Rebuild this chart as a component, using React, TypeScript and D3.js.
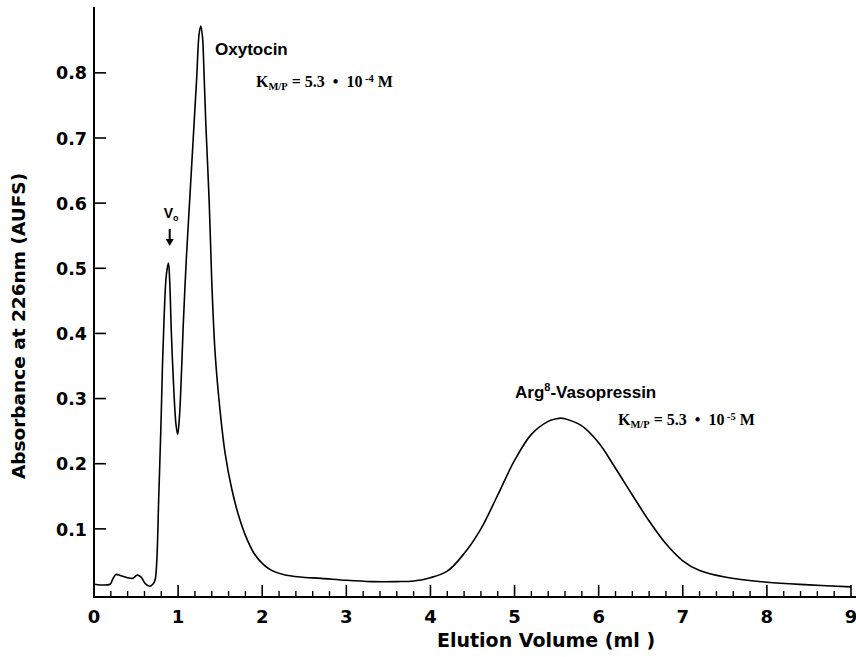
import React from 'react';
import * as d3 from 'd3';

const volume = [
  0.0, 0.19, 0.22, 0.26, 0.32, 0.4, 0.46, 0.515, 0.56, 0.61, 0.66, 0.7, 0.725,
  0.745, 0.77, 0.795, 0.815, 0.835, 0.86, 0.885, 0.9, 0.92, 0.95, 0.975, 0.995,
  1.015, 1.04, 1.06, 1.1, 1.14, 1.18, 1.22, 1.25, 1.27, 1.29, 1.3, 1.33, 1.37,
  1.4, 1.44, 1.5, 1.56, 1.64, 1.72, 1.8, 1.9, 2.0, 2.1, 2.25, 2.45, 2.7, 3.0,
  3.3, 3.6, 3.8, 4.0, 4.2, 4.4, 4.6, 4.8, 5.0, 5.2, 5.4, 5.5, 5.55, 5.6, 5.8,
  6.0, 6.2, 6.4, 6.6, 6.8, 7.0, 7.2, 7.5, 8.0, 8.5, 9.0,
];
const absorbance = [
  0.015, 0.015, 0.022, 0.030, 0.028, 0.025, 0.024, 0.029, 0.026, 0.016, 0.012,
  0.015, 0.021, 0.047, 0.15, 0.255, 0.355, 0.43, 0.49, 0.508, 0.48, 0.4, 0.31,
  0.26, 0.245, 0.27, 0.34, 0.41, 0.52, 0.61, 0.7, 0.79, 0.86, 0.872, 0.855,
  0.83, 0.72, 0.6, 0.48, 0.37, 0.28, 0.215, 0.16, 0.12, 0.09, 0.063, 0.047,
  0.037, 0.03, 0.026, 0.024, 0.021, 0.019, 0.019, 0.02, 0.025, 0.035, 0.062,
  0.1, 0.152, 0.205, 0.245, 0.265, 0.269, 0.27, 0.269, 0.258, 0.232, 0.193,
  0.152, 0.112, 0.077, 0.051, 0.036, 0.026, 0.018, 0.014, 0.011,
];
const xTickValues = [0, 1, 2, 3, 4, 5, 6, 7, 8, 9];
const xTickLabels = ['0', '1', '2', '3', '4', '5', '6', '7', '8', '9'];
const yTickValues = [0.1, 0.2, 0.3, 0.4, 0.5, 0.6, 0.7, 0.8];
const yTickLabels = ['0.1', '0.2', '0.3', '0.4', '0.5', '0.6', '0.7', '0.8'];
const minorStep = 0.2;

const SANS = 'DejaVu Sans, sans-serif';
const LABEL = 'Liberation Sans, Arial, sans-serif';
const SERIF = 'Liberation Serif, Times New Roman, serif';

export default function App() {
  const W = 856;
  const H = 657;
  const x = d3.scaleLinear().domain([0, 9]).range([94, 851]);
  const y = d3.scaleLinear().domain([0, 0.9]).range([594, 7.7]);
  const axisY = 597;
  const axisX = 94;

  const pts: [number, number][] = volume.map((v, i) => [v, absorbance[i]]);
  const line = d3
    .line<[number, number]>()
    .x((d) => x(d[0]))
    .y((d) => y(d[1]))
    .curve(d3.curveCatmullRom.alpha(0.5));

  const minor = d3.range(0, 9 + 1e-9, minorStep).filter(
    (v) => Math.abs(v - Math.round(v)) > 1e-6
  );

  const vx = x(0.9);

  return (
    <svg
      width={W}
      height={H}
      style={{ position: 'absolute', left: 0, top: 0, background: '#fff' }}
    >
      {/* curve */}
      <path d={line(pts) || ''} fill="none" stroke="#000" strokeWidth={1.6} />

      {/* axes */}
      <line x1={axisX} x2={axisX} y1={7} y2={axisY + 1} stroke="#000" strokeWidth={2} />
      <line x1={axisX - 1} x2={W} y1={axisY} y2={axisY} stroke="#000" strokeWidth={2} />

      {/* x ticks */}
      {xTickValues.map((v, i) => (
        <g key={'xt' + i}>
          <line x1={x(v)} x2={x(v)} y1={axisY} y2={axisY - 12} stroke="#000" strokeWidth={1.6} />
          <text
            x={x(v)}
            y={623}
            textAnchor="middle"
            fontFamily={SANS}
            fontWeight="bold"
            fontSize={18}
          >
            {xTickLabels[i]}
          </text>
        </g>
      ))}
      {minor.map((v, i) => (
        <line
          key={'xm' + i}
          x1={x(v)}
          x2={x(v)}
          y1={axisY}
          y2={axisY - 6}
          stroke="#000"
          strokeWidth={1.4}
        />
      ))}

      {/* y ticks */}
      {yTickValues.map((v, i) => (
        <g key={'yt' + i}>
          <line x1={axisX} x2={axisX + 12} y1={y(v)} y2={y(v)} stroke="#000" strokeWidth={1.6} />
          <text
            x={87}
            y={y(v)}
            dy="0.38em"
            textAnchor="end"
            fontFamily={SANS}
            fontWeight="bold"
            fontSize={17.5}
          >
            {yTickLabels[i]}
          </text>
        </g>
      ))}

      {/* axis titles */}
      <text x={437} y={647} fontFamily={SANS} fontWeight="bold" fontSize={19}>
        Elution Volume (ml )
      </text>
      <text
        transform="translate(25,326) rotate(-90)"
        textAnchor="middle"
        fontFamily={SANS}
        fontWeight="bold"
        fontSize={18.5}
      >
        Absorbance at 226nm (AUFS)
      </text>

      {/* annotations */}
      <text x={215} y={55} fontFamily={LABEL} fontWeight="bold" fontSize={17}>
        Oxytocin
      </text>
      <text x={256} y={87} fontFamily={SERIF} fontWeight="bold" fontSize={16} xmlSpace="preserve">
        K
        <tspan dy={3} fontSize={10.5}>M/P</tspan>
        <tspan dy={-3}>{' = 5.3  •  10'}</tspan>
        <tspan dy={-5} fontSize={10.5}>{' -4'}</tspan>
        <tspan dy={5}>{' M'}</tspan>
      </text>

      <text x={515} y={398} fontFamily={LABEL} fontWeight="bold" fontSize={17}>
        Arg
        <tspan dy={-7} fontSize={11}>8</tspan>
        <tspan dy={7}>-Vasopressin</tspan>
      </text>
      <text x={618} y={425} fontFamily={SERIF} fontWeight="bold" fontSize={16} xmlSpace="preserve">
        K
        <tspan dy={3} fontSize={10.5}>M/P</tspan>
        <tspan dy={-3}>{' = 5.3  •  10'}</tspan>
        <tspan dy={-5} fontSize={10.5}>{' -5'}</tspan>
        <tspan dy={5}>{' M'}</tspan>
      </text>

      {/* Vo marker */}
      <text x={vx - 6} y={218} fontFamily={LABEL} fontWeight="bold" fontSize={14}>
        V
        <tspan dy={3} fontSize={9}>o</tspan>
      </text>
      <line x1={vx} x2={vx} y1={229} y2={240} stroke="#000" strokeWidth={2} />
      <path d={`M${vx - 4},${239} L${vx + 4},${239} L${vx},${246} Z`} fill="#000" />
    </svg>
  );
}
